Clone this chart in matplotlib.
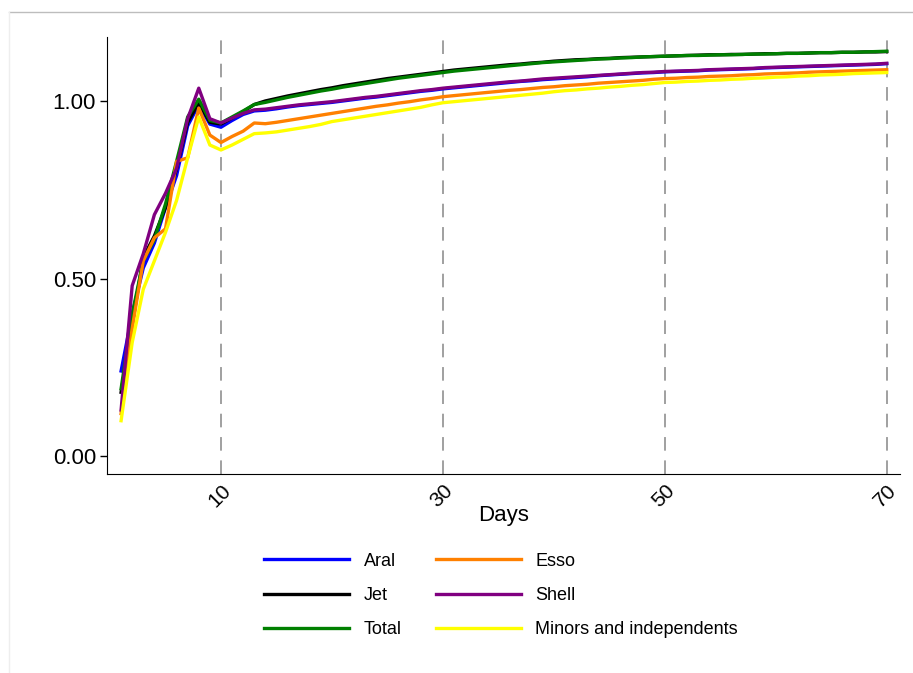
import matplotlib
matplotlib.use("Agg")
import matplotlib.pyplot as plt
from matplotlib.lines import Line2D
from matplotlib.ticker import FormatStrFormatter

plt.rcParams["font.family"] = ["Liberation Sans", "DejaVu Sans"]

days = list(range(1, 71))

aral = [0.24, 0.40, 0.53, 0.60, 0.70, 0.79, 0.93, 0.99, 0.935, 0.926,
        0.945, 0.962, 0.972, 0.974, 0.978, 0.983, 0.987, 0.990, 0.993, 0.996,
        1.000, 1.004, 1.008, 1.011, 1.015, 1.019, 1.023, 1.027, 1.030, 1.034,
        1.037, 1.040, 1.043, 1.046, 1.049, 1.052, 1.055, 1.057, 1.060, 1.062,
        1.064, 1.066, 1.068, 1.071, 1.073, 1.075, 1.077, 1.079, 1.080, 1.082,
        1.083, 1.084, 1.085, 1.087, 1.088, 1.089, 1.090, 1.091, 1.093, 1.094,
        1.095, 1.096, 1.097, 1.098, 1.099, 1.100, 1.101, 1.102, 1.103, 1.105]

jet = [0.18, 0.37, 0.56, 0.62, 0.70, 0.81, 0.94, 0.995, 0.94, 0.935,
       0.952, 0.970, 0.990, 1.000, 1.007, 1.014, 1.020, 1.026, 1.032, 1.037,
       1.043, 1.048, 1.053, 1.058, 1.063, 1.067, 1.071, 1.075, 1.079, 1.083,
       1.087, 1.090, 1.093, 1.096, 1.099, 1.102, 1.104, 1.107, 1.109, 1.112,
       1.114, 1.116, 1.117, 1.119, 1.120, 1.122, 1.123, 1.124, 1.125, 1.126,
       1.127, 1.128, 1.129, 1.130, 1.130, 1.131, 1.131, 1.132, 1.133, 1.133,
       1.134, 1.134, 1.135, 1.136, 1.136, 1.137, 1.137, 1.138, 1.138, 1.139]

total = [0.19, 0.40, 0.55, 0.61, 0.71, 0.83, 0.955, 1.005, 0.945, 0.938,
         0.955, 0.972, 0.990, 0.996, 1.003, 1.010, 1.016, 1.022, 1.028, 1.033,
         1.039, 1.044, 1.049, 1.054, 1.059, 1.064, 1.068, 1.072, 1.076, 1.080,
         1.084, 1.087, 1.090, 1.093, 1.096, 1.099, 1.102, 1.105, 1.108, 1.110,
         1.112, 1.114, 1.116, 1.118, 1.119, 1.121, 1.122, 1.124, 1.125, 1.126,
         1.127, 1.128, 1.128, 1.129, 1.130, 1.130, 1.131, 1.132, 1.132, 1.133,
         1.134, 1.134, 1.135, 1.136, 1.136, 1.137, 1.137, 1.138, 1.139, 1.140]

esso = [0.12, 0.36, 0.55, 0.615, 0.64, 0.83, 0.84, 0.98, 0.904, 0.883,
        0.900, 0.915, 0.938, 0.936, 0.940, 0.945, 0.950, 0.955, 0.960, 0.965,
        0.970, 0.975, 0.980, 0.985, 0.989, 0.994, 0.998, 1.003, 1.007, 1.012,
        1.015, 1.018, 1.021, 1.024, 1.027, 1.030, 1.032, 1.035, 1.038, 1.040,
        1.043, 1.045, 1.047, 1.050, 1.052, 1.054, 1.056, 1.058, 1.061, 1.063,
        1.064, 1.066, 1.067, 1.069, 1.070, 1.071, 1.073, 1.074, 1.076, 1.077,
        1.078, 1.079, 1.081, 1.082, 1.083, 1.084, 1.085, 1.086, 1.087, 1.088]

shell = [0.13, 0.48, 0.57, 0.68, 0.74, 0.81, 0.95, 1.036, 0.95, 0.938,
         0.952, 0.965, 0.975, 0.977, 0.981, 0.985, 0.989, 0.992, 0.995, 0.998,
         1.002, 1.006, 1.010, 1.013, 1.017, 1.021, 1.025, 1.029, 1.032, 1.036,
         1.039, 1.042, 1.045, 1.048, 1.051, 1.054, 1.056, 1.059, 1.062, 1.064,
         1.066, 1.068, 1.070, 1.072, 1.074, 1.076, 1.078, 1.080, 1.081, 1.083,
         1.084, 1.085, 1.086, 1.088, 1.089, 1.090, 1.091, 1.092, 1.094, 1.095,
         1.096, 1.097, 1.098, 1.099, 1.100, 1.101, 1.102, 1.103, 1.104, 1.106]

minors = [0.10, 0.32, 0.47, 0.55, 0.63, 0.72, 0.84, 0.955, 0.876, 0.862,
          0.876, 0.892, 0.908, 0.910, 0.913, 0.918, 0.923, 0.928, 0.934, 0.942,
          0.947, 0.952, 0.957, 0.962, 0.967, 0.972, 0.977, 0.982, 0.989, 0.995,
          0.998, 1.001, 1.004, 1.007, 1.010, 1.013, 1.016, 1.019, 1.022, 1.026,
          1.029, 1.031, 1.034, 1.036, 1.039, 1.041, 1.044, 1.046, 1.049, 1.052,
          1.053, 1.055, 1.056, 1.058, 1.059, 1.061, 1.062, 1.064, 1.065, 1.067,
          1.068, 1.070, 1.071, 1.073, 1.074, 1.075, 1.077, 1.078, 1.079, 1.080]

series = [
    ("Aral", aral, "#0000ff"),
    ("Jet", jet, "#000000"),
    ("Total", total, "#008000"),
    ("Esso", esso, "#ff8000"),
    ("Shell", shell, "#800080"),
    ("Minors and independents", minors, "#ffff00"),
]

vlines = [10, 30, 50, 70]
yticks = [0.0, 0.5, 1.0]

fig = plt.figure(figsize=(9.13, 6.73), dpi=100)
ax = fig.add_axes([0.1172, 0.2957, 0.8686, 0.6493])

for x in vlines:
    ax.axvline(x, color="#a0a0a0", linestyle=(0, (7, 5)), linewidth=1.4, zorder=1)

for name, vals, col in series:
    ax.plot(days, vals, color=col, linewidth=2.4, label=name, zorder=3)

ax.set_xlim(-0.27, 71.2)
ax.set_ylim(-0.05, 1.18)
ax.set_xticks(vlines)
ax.set_xticklabels([str(v) for v in vlines], rotation=45, ha="right",
                   rotation_mode="anchor", fontsize=15)
ax.set_yticks(yticks)
ax.yaxis.set_major_formatter(FormatStrFormatter("%.2f"))
ax.tick_params(axis="y", labelsize=16, length=5, width=1, pad=3)
ax.tick_params(axis="x", length=0, pad=5)
ax.spines["top"].set_visible(False)
ax.spines["right"].set_visible(False)
ax.set_xlabel("Days", fontsize=16, labelpad=-4)

ax.legend(loc="upper center", bbox_to_anchor=(0.497, -0.143), ncol=2,
          frameon=False, fontsize=13, handlelength=4.7, handletextpad=0.8,
          columnspacing=1.9, labelspacing=0.95)

# thin outer frame lines seen at top/left of the original graphic
fig.add_artist(Line2D([0.0099, 1.0], [0.982, 0.982], transform=fig.transFigure,
                      color="#bdbdbd", linewidth=1))
fig.add_artist(Line2D([0.0099, 0.0099], [0.0, 0.982], transform=fig.transFigure,
                      color="#eeeeee", linewidth=1))

fig.savefig("out.png", dpi=100)
